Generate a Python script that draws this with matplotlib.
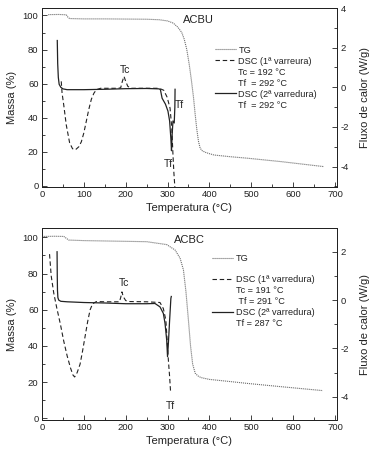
import numpy as np
import matplotlib
matplotlib.use('Agg')
import matplotlib.pyplot as plt
from matplotlib.lines import Line2D
from matplotlib.ticker import MultipleLocator

plt.rcParams['font.family'] = ['Liberation Sans', 'DejaVu Sans']
plt.rcParams['axes.unicode_minus'] = False

INK = '#222222'
TG_COL = '#6e6e6e'

# ---- ACBU (top) ----
acbu_tg_T = [15, 40, 58, 62, 66, 100, 150, 200, 250, 280, 300, 314, 325, 334, 340, 346, 352,
             357, 362, 366, 370, 374, 378, 383, 390, 400, 411, 450, 492, 572, 673]
acbu_tg_m = [100.5, 100.6, 100.4, 99.0, 98.2, 98.0, 98.0, 97.9, 97.8, 97.5, 96.8, 95.5, 93.0, 90.0,
             86.0, 80.0, 71.0, 62.0, 52.0, 42.0, 33.0, 26.0, 22.0, 20.5, 19.6, 18.8, 18.0, 17.0,
             16.1, 14.1, 11.2]

acbu_dsc1_T = [46, 48, 52, 58, 66, 73, 80, 88, 94, 100, 106, 112, 118, 124, 130, 140, 180, 188,
               192, 196, 200, 205, 212, 250, 280, 291, 299, 306, 310, 313, 315, 318]
acbu_dsc1_W = [0.3, -0.3, -0.9, -1.9, -2.8, -3.1, -3.15, -3.0, -2.75, -2.3, -1.7, -1.1, -0.6, -0.3,
               -0.12, -0.05, -0.05, -0.03, 0.3, 0.55, 0.3, 0.05, -0.05, -0.05, -0.05, -0.15, -0.5,
               -1.05, -2.0, -3.4, -4.25, -5.2]

acbu_dsc2_T = [36.5, 37.5, 39, 41, 45, 50, 60, 100, 150, 200, 250, 280, 283, 287, 295, 301, 305,
               308, 309.5, 311, 313, 316, 317.5, 318]
acbu_dsc2_W = [2.36, 1.2, 0.5, 0.15, 0.0, -0.08, -0.12, -0.12, -0.1, -0.07, -0.06, -0.08, -0.12,
               -0.55, -0.85, -1.2, -1.7, -2.6, -3.2, -2.4, -1.7, -1.8, -1.0, -0.1]

acbu_labels = ['TG', 'DSC (1ª varreura)', 'Tc = 192 °C', 'Tf  = 292 °C',
               'DSC (2ª varredura)', 'Tf  = 292 °C']

# ---- ACBC (bottom) ----
acbc_tg_T = [4, 30, 52, 58, 64, 100, 150, 200, 250, 298, 318, 330, 338, 344, 350, 355, 360, 366,
             372, 380, 400, 450, 490, 570, 671]
acbc_tg_m = [100.5, 100.6, 100.5, 99.5, 98.5, 98.2, 98.0, 97.8, 97.6, 96.0, 93.0, 88.5, 82.0, 70.0,
             54.0, 40.0, 30.0, 25.0, 23.5, 22.5, 21.5, 20.3, 19.3, 17.5, 15.3]

acbc_dsc1_T = [18, 22, 28, 35, 44, 52, 60, 68, 74, 78, 84, 91, 97, 103, 109, 115, 121, 130, 150,
               185, 188, 191, 194, 200, 210, 250, 282, 290, 296, 300, 302, 305, 307, 308]
acbc_dsc1_W = [1.9, 1.0, 0.3, -0.3, -1.0, -1.7, -2.3, -2.8, -3.1, -3.18, -3.0, -2.65, -2.1, -1.5,
               -0.9, -0.4, -0.15, -0.06, -0.07, -0.07, 0.1, 0.34, 0.15, -0.02, -0.06, -0.07, -0.1,
               -0.35, -0.83, -1.93, -2.48, -3.17, -3.72, -3.85]

acbc_dsc2_T = [36, 36.5, 37, 38, 40, 45, 60, 100, 150, 200, 250, 270, 282, 290, 294, 298, 300,
               302, 305, 308, 309]
acbc_dsc2_W = [2.0, 1.0, 0.4, 0.1, 0.0, -0.05, -0.07, -0.1, -0.12, -0.15, -0.15, -0.14, -0.28,
               -0.55, -0.96, -1.65, -2.34, -1.8, -0.83, 0.07, 0.15]

acbc_labels = ['TG', 'DSC (1ª varredura)', 'Tc = 191 °C', ' Tf = 291 °C',
               'DSC (2ª varredura)', 'Tf = 287 °C']

right_ticks = [4, 2, 0, -2, -4]


def style_axes(ax, ax2, ylim_l, ylim_r):
    ax.set_xlim(0, 705)
    ax.set_ylim(*ylim_l)
    ax2.set_ylim(*ylim_r)
    ax.xaxis.set_major_locator(MultipleLocator(100))
    ax.xaxis.set_minor_locator(MultipleLocator(50))
    ax.yaxis.set_major_locator(MultipleLocator(20))
    ax.yaxis.set_minor_locator(MultipleLocator(10))
    ax2.set_yticks([v for v in right_ticks if v <= ylim_r[1]])
    ax2.yaxis.set_minor_locator(MultipleLocator(1))
    for a in (ax, ax2):
        a.tick_params(which='major', direction='in', length=3.5, width=0.6,
                      labelsize=6.8, colors=INK, pad=2.5)
        a.tick_params(which='minor', direction='in', length=2, width=0.6, colors=INK)
        for s in a.spines.values():
            s.set_linewidth(0.7)
            s.set_color(INK)
    ax.tick_params(axis='x', top=False, which='both')
    ax.set_xlabel('Temperatura (°C)', fontsize=8, color=INK, labelpad=2.5)
    ax.set_ylabel('Massa (%)', fontsize=8, color=INK, labelpad=4)
    ax2.set_ylabel('Fluxo de calor (W/g)', fontsize=8, color=INK, labelpad=8)


def plot_panel(rect, tg_T, tg_m, d1_T, d1_W, d2_T, d2_W):
    ax = fig.add_axes(rect)
    ax2 = ax.twinx()
    ax.plot(tg_T, tg_m, ls=(0, (1, 0.8)), lw=0.8, color=TG_COL)
    ax2.plot(d1_T, d1_W, ls=(0, (4, 2.5)), lw=0.8, color=INK)
    ax2.plot(d2_T, d2_W, ls='-', lw=0.9, color=INK)
    return ax, ax2


def handles():
    blank = Line2D([], [], ls='none')
    return [Line2D([], [], ls=(0, (1, 0.8)), lw=0.8, color=TG_COL),
            Line2D([], [], ls=(0, (4, 2.5)), lw=0.8, color=INK),
            blank, blank,
            Line2D([], [], ls='-', lw=0.9, color=INK),
            blank]


fig = plt.figure(figsize=(3.72, 4.57), dpi=100)

# top panel
ax, ax2 = plot_panel([42 / 372, 1 - 187 / 457, 295 / 372, 179 / 457],
                     acbu_tg_T, acbu_tg_m, acbu_dsc1_T, acbu_dsc1_W,
                     acbu_dsc2_T, acbu_dsc2_W)
style_axes(ax, ax2, (-0.8, 104.4), (-5.03, 4.0))
ax.text(375, 97.4, 'ACBU', fontsize=8, color=INK, ha='center', va='center')
ax2.text(198, 0.85, 'Tc', fontsize=7.5, color=INK, ha='center', va='center')
ax2.text(328, -0.88, 'Tf', fontsize=7.5, color=INK, ha='center', va='center')
ax2.text(301, -3.88, 'Tf', fontsize=7.5, color=INK, ha='center', va='center')
leg = ax2.legend(handles(), acbu_labels, loc='upper left', bbox_to_anchor=(0.585, 0.79),
                 frameon=False, fontsize=6.6, handlelength=2.3, handletextpad=0.3,
                 labelspacing=0.22, borderpad=0, borderaxespad=0)
for t in leg.get_texts():
    t.set_color(INK)

# bottom panel
bx, bx2 = plot_panel([42 / 372, 1 - 420 / 457, 295 / 372, 191.7 / 457],
                     acbc_tg_T, acbc_tg_m, acbc_dsc1_T, acbc_dsc1_W,
                     acbc_dsc2_T, acbc_dsc2_W)
style_axes(bx, bx2, (-0.94, 105.0), (-4.96, 2.97))
bx.text(352, 98.5, 'ACBC', fontsize=8, color=INK, ha='center', va='center')
bx2.text(197, 0.69, 'Tc', fontsize=7.5, color=INK, ha='center', va='center')
bx2.text(306, -4.37, 'Tf', fontsize=7.5, color=INK, ha='center', va='center')
h = handles()
leg1 = bx2.legend(h[:1], acbc_labels[:1], loc='upper left', bbox_to_anchor=(0.577, 0.865),
                  frameon=False, fontsize=6.6, handlelength=2.3, handletextpad=0.3,
                  borderpad=0, borderaxespad=0)
bx2.add_artist(leg1)
leg2 = bx2.legend(h[1:], acbc_labels[1:], loc='upper left', bbox_to_anchor=(0.577, 0.755),
                  frameon=False, fontsize=6.6, handlelength=2.3, handletextpad=0.3,
                  labelspacing=0.22, borderpad=0, borderaxespad=0)
for lg in (leg1, leg2):
    for t in lg.get_texts():
        t.set_color(INK)

fig.savefig('out.png', dpi=100)
